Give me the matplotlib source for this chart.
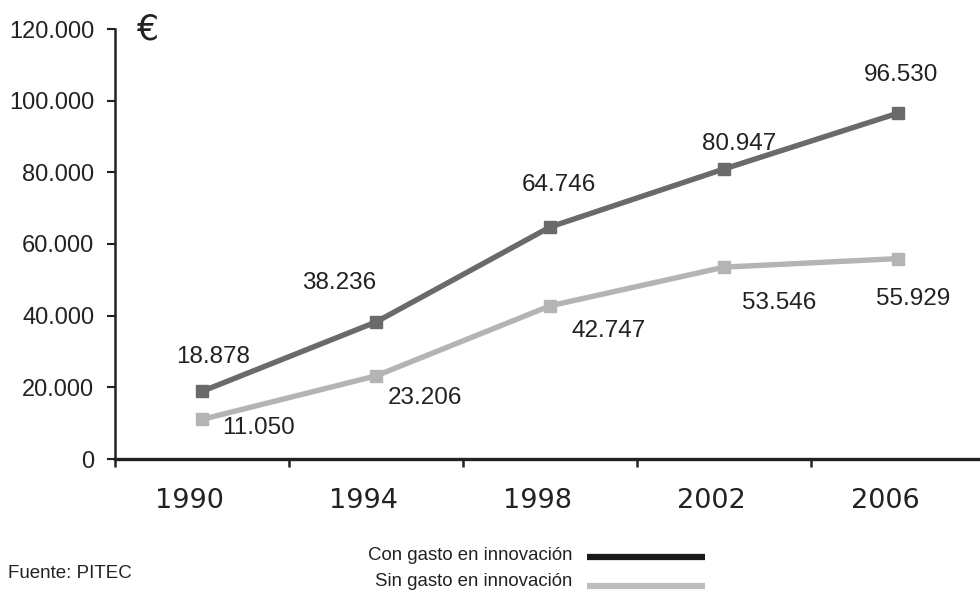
import matplotlib
matplotlib.use("Agg")
import matplotlib.pyplot as plt
import matplotlib.transforms as mtransforms
import numpy as np

years = ["1990", "1994", "1998", "2002", "2006"]
con_gasto = [18878, 38236, 64746, 80947, 96530]
sin_gasto = [11050, 23206, 42747, 53546, 55929]
yticks = [0, 20000, 40000, 60000, 80000, 100000, 120000]

# label offsets in pixels (dx, dy) from each marker
con_offsets = [(11, 34), (-37, 39), (9, 42), (15, 25), (3, 38)]
sin_offsets = [(56, -9), (49, -22), (59, -25), (55, -36), (15, -40)]

dark = "#6a6a6a"
light = "#b4b4b4"
sans = ["Liberation Sans", "DejaVu Sans"]

fig = plt.figure(figsize=(9.8, 5.92), dpi=100)
ax = fig.add_axes([115 / 980, 1 - 459 / 592, 865 / 980, 430 / 592])

x = np.arange(len(years))
ax.plot(x, con_gasto, color=dark, lw=3.9, marker="s", ms=9, mec=dark, mfc=dark, zorder=3)
ax.plot(x, sin_gasto, color=light, lw=3.9, marker="s", ms=9, mec=light, mfc=light, zorder=3)

def fmt(v):
    return f"{v:,}".replace(",", ".")

for xi, v, (dx, dy) in zip(x, con_gasto, con_offsets):
    ax.annotate(fmt(v), (xi, v), xytext=(dx, dy), textcoords="offset pixels",
                ha="center", va="center", fontsize=17.5, family=sans, color="#222222")
for xi, v, (dx, dy) in zip(x, sin_gasto, sin_offsets):
    ax.annotate(fmt(v), (xi, v), xytext=(dx, dy), textcoords="offset pixels",
                ha="center", va="center", fontsize=17.5, family=sans, color="#222222")

ax.set_ylim(0, 120000)
ax.set_xlim(-0.5, 4.47)
ax.set_yticks(yticks)
ax.set_yticklabels([fmt(t) for t in yticks], family=sans, fontsize=17, color="#222222")

# category labels sit between the ticks, nudged a little left
ax.set_xticks(np.arange(-0.5, 4.0, 1.0))
ax.set_xticklabels([])
ax.set_xticks(x, minor=True)
ax.set_xticklabels(years, minor=True, family="DejaVu Sans", fontsize=19.5, color="#222222")
ax.tick_params(axis="x", which="minor", length=0, pad=21)
ax.tick_params(axis="x", which="major", length=6, width=1.8, direction="out", color="#222222")
ax.tick_params(axis="y", length=6, width=1.5, direction="out", pad=9, color="#222222")
shift = mtransforms.ScaledTranslation(-13 / 100, 0, fig.dpi_scale_trans)
for lbl in ax.get_xticklabels(minor=True):
    lbl.set_transform(lbl.get_transform() + shift)

for s in ["top", "right"]:
    ax.spines[s].set_visible(False)
ax.spines["left"].set_linewidth(1.8)
ax.spines["bottom"].set_linewidth(2.4)
ax.spines["left"].set_color("#222222")
ax.spines["bottom"].set_color("#222222")

fig.text(147 / 980, 1 - 29 / 592, "€", fontsize=25, family="DejaVu Sans",
         ha="center", va="center", color="#222222")

# legend drawn by hand below the axis
fig.text(572 / 980, 1 - 556 / 592, "Con gasto en innovación", fontsize=13.4,
         family=sans, ha="right", va="center", color="#222222")
fig.text(572 / 980, 1 - 581 / 592, "Sin gasto en innovación", fontsize=13.4,
         family=sans, ha="right", va="center", color="#222222")
fig.add_artist(plt.Line2D([587 / 980, 705 / 980], [1 - 557 / 592, 1 - 557 / 592],
                          color="#1a1a1a", lw=4.5, solid_capstyle="butt"))
fig.add_artist(plt.Line2D([587 / 980, 705 / 980], [1 - 586 / 592, 1 - 586 / 592],
                          color="#bdbdbd", lw=4.5, solid_capstyle="butt"))

fig.text(8 / 980, 1 - 573 / 592, "Fuente: PITEC", fontsize=13.5, family=sans,
         ha="left", va="center", color="#222222")

fig.savefig("out.png", dpi=100)
